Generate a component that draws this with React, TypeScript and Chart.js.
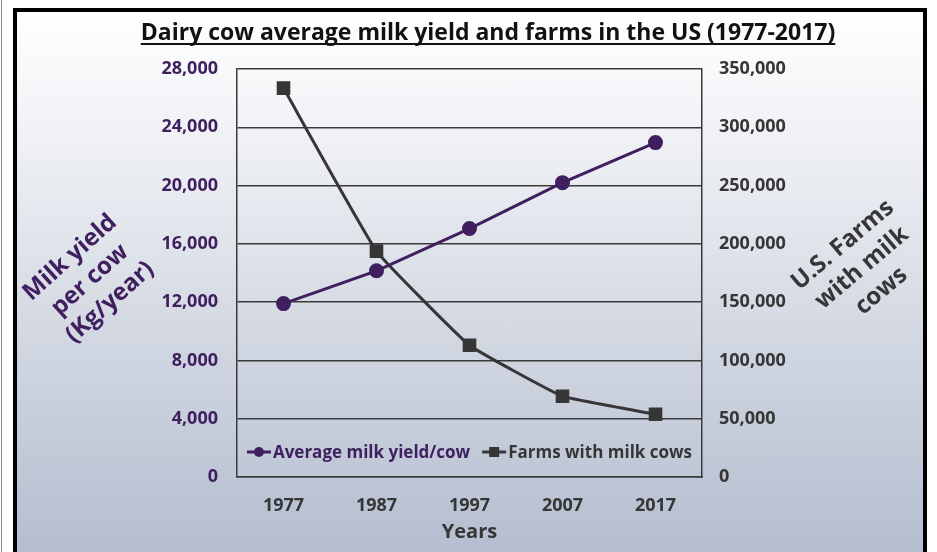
import { useEffect, useRef } from 'react';
import { Chart, registerables } from 'chart.js';

Chart.register(...registerables);

const years = ['1977', '1987', '1997', '2007', '2017'];
const milkYield = [11900, 14150, 17050, 20200, 22950];
const farms = [333600, 193800, 113000, 69300, 53800];
const yieldTicks = [0, 4000, 8000, 12000, 16000, 20000, 24000, 28000];
const farmTicks = [0, 50000, 100000, 150000, 200000, 250000, 300000, 350000];
const seriesNames = ['Average milk yield/cow', 'Farms with milk cows'];
const chartTitle = 'Dairy cow average milk yield and farms in the US (1977-2017)';
const leftTitle = ['Milk yield', 'per cow', '(Kg/year)'];
const rightTitle = ['U.S. Farms', 'with milk', 'cows'];
const xTitle = 'Years';

const FONT = '"Open Sans", sans-serif';
const PURPLE = '#3f1f5f';
const GREY = '#363636';

function rotatedLines(ctx: CanvasRenderingContext2D, lines: string[], cx: number, cy: number, angle: number, lineH: number) {
  ctx.save();
  ctx.translate(cx, cy);
  ctx.rotate(angle);
  ctx.textAlign = 'center';
  ctx.textBaseline = 'middle';
  const start = -((lines.length - 1) * lineH) / 2;
  lines.forEach((l, i) => ctx.fillText(l, 0, start + i * lineH));
  ctx.restore();
}

// title, slanted axis titles and the in-plot legend
const decorations = {
  id: 'decorations',
  afterDraw(chart: Chart) {
    const { ctx, chartArea } = chart;
    ctx.save();

    // underlined title
    ctx.font = `bold 23px ${FONT}`;
    ctx.fillStyle = '#111';
    ctx.textAlign = 'center';
    ctx.textBaseline = 'alphabetic';
    const tx = 488;
    ctx.fillText(chartTitle, tx, 40);
    const tw = ctx.measureText(chartTitle).width;
    ctx.fillRect(tx - tw / 2, 43, tw, 2);

    // slanted axis titles
    ctx.font = `bold 24px ${FONT}`;
    ctx.fillStyle = PURPLE;
    rotatedLines(ctx, leftTitle, 90, 280, -0.73, 30);
    ctx.fillStyle = GREY;
    rotatedLines(ctx, rightTitle, 862, 268, -0.7, 30);

    // legend inside the plot
    ctx.font = `bold 17px ${FONT}`;
    const lineLen = 24;
    const gap = 12;
    const widths = seriesNames.map((n) => lineLen + 2 + ctx.measureText(n).width);
    const total = widths.reduce((a, b) => a + b, 0) + gap;
    let x = (chartArea.left + chartArea.right) / 2 - total / 2;
    const y = chartArea.bottom - 25;
    chart.data.datasets.forEach((ds: any, i: number) => {
      ctx.strokeStyle = ds.borderColor;
      ctx.lineWidth = 3;
      ctx.beginPath();
      ctx.moveTo(x, y);
      ctx.lineTo(x + lineLen, y);
      ctx.stroke();
      ctx.fillStyle = ds.pointBackgroundColor;
      if (ds.pointStyle === 'rect') {
        ctx.fillRect(x + lineLen / 2 - 5, y - 5, 10, 10);
      } else {
        ctx.beginPath();
        ctx.arc(x + lineLen / 2, y, 5, 0, Math.PI * 2);
        ctx.fill();
      }
      ctx.fillStyle = i === 0 ? PURPLE : GREY;
      ctx.textAlign = 'left';
      ctx.textBaseline = 'middle';
      ctx.fillText(ds.label, x + lineLen + 2, y + 1);
      x += widths[i] + gap;
    });

    ctx.restore();
  },
};

export default function App() {
  const canvasRef = useRef<HTMLCanvasElement>(null);
  const chartRef = useRef<Chart | null>(null);

  useEffect(() => {
    if (!canvasRef.current) return;
    if (chartRef.current) chartRef.current.destroy();

    Chart.defaults.font.family = FONT;

    const fmt = (v: any) => Number(v).toLocaleString('en-US');
    const gridColor = '#3a3a3a';

    chartRef.current = new Chart(canvasRef.current, {
      type: 'line',
      data: {
        labels: years,
        datasets: [
          {
            label: seriesNames[0],
            data: milkYield,
            yAxisID: 'y',
            borderColor: PURPLE,
            backgroundColor: PURPLE,
            pointBackgroundColor: PURPLE,
            pointBorderColor: PURPLE,
            borderWidth: 3,
            pointStyle: 'circle',
            pointRadius: 6,
            tension: 0,
          },
          {
            label: seriesNames[1],
            data: farms,
            yAxisID: 'y2',
            borderColor: GREY,
            backgroundColor: GREY,
            pointBackgroundColor: GREY,
            pointBorderColor: GREY,
            borderWidth: 3,
            pointStyle: 'rect',
            pointRadius: 7.5,
            tension: 0.1,
          },
        ],
      },
      options: {
        animation: false,
        responsive: true,
        maintainAspectRatio: false,
        layout: { padding: { top: 69, left: 0, right: 0, bottom: 0 } },
        plugins: {
          legend: { display: false },
          title: { display: false },
          tooltip: { enabled: false },
        },
        scales: {
          x: {
            offset: true,
            grid: { display: false },
            border: { display: true, color: gridColor, width: 1.5 },
            ticks: { color: GREY, font: { size: 18, weight: 'bold' }, padding: 10 },
            title: {
              display: true,
              text: xTitle,
              color: GREY,
              font: { size: 20, weight: 'bold' },
              padding: { top: 0, bottom: 8 },
            },
            afterFit: (s: any) => {
              s.height = 75;
            },
          },
          y: {
            position: 'left',
            min: yieldTicks[0],
            max: yieldTicks[yieldTicks.length - 1],
            grid: { color: gridColor, lineWidth: 1.5, drawTicks: false },
            border: { display: true, color: gridColor, width: 1.5 },
            ticks: {
              stepSize: yieldTicks[1] - yieldTicks[0],
              color: PURPLE,
              font: { size: 18, weight: 'bold' },
              padding: 19,
              callback: fmt,
            },
            afterFit: (s: any) => {
              s.width = 237;
            },
          },
          y2: {
            position: 'right',
            min: farmTicks[0],
            max: farmTicks[farmTicks.length - 1],
            grid: { display: false, drawTicks: false },
            border: { display: true, color: gridColor, width: 1.5 },
            ticks: {
              stepSize: farmTicks[1] - farmTicks[0],
              color: GREY,
              font: { size: 18, weight: 'bold' },
              padding: 17,
              callback: fmt,
            },
            afterFit: (s: any) => {
              s.width = 235;
            },
          },
        },
      },
      plugins: [decorations],
    });

    return () => {
      if (chartRef.current) {
        chartRef.current.destroy();
        chartRef.current = null;
      }
    };
  }, []);

  return (
    <div style={{ position: 'fixed', left: 0, top: 0, width: 937, height: 552, background: '#fff', overflow: 'hidden' }}>
      <div style={{ position: 'absolute', left: 1, top: 0, width: 1, height: 552, background: '#8a8a8a' }} />
      <div
        style={{
          position: 'absolute',
          left: 13,
          top: 8,
          width: 914,
          height: 548,
          boxSizing: 'border-box',
          border: '4px solid #000',
          background: 'linear-gradient(to bottom, #ffffff 0%, #eef0f4 25%, #d6dbe4 55%, #b4bed0 100%)',
        }}
      />
      <div style={{ position: 'absolute', left: 0, top: 0, width: 937, height: 552 }}>
        <canvas ref={canvasRef} />
      </div>
    </div>
  );
}
